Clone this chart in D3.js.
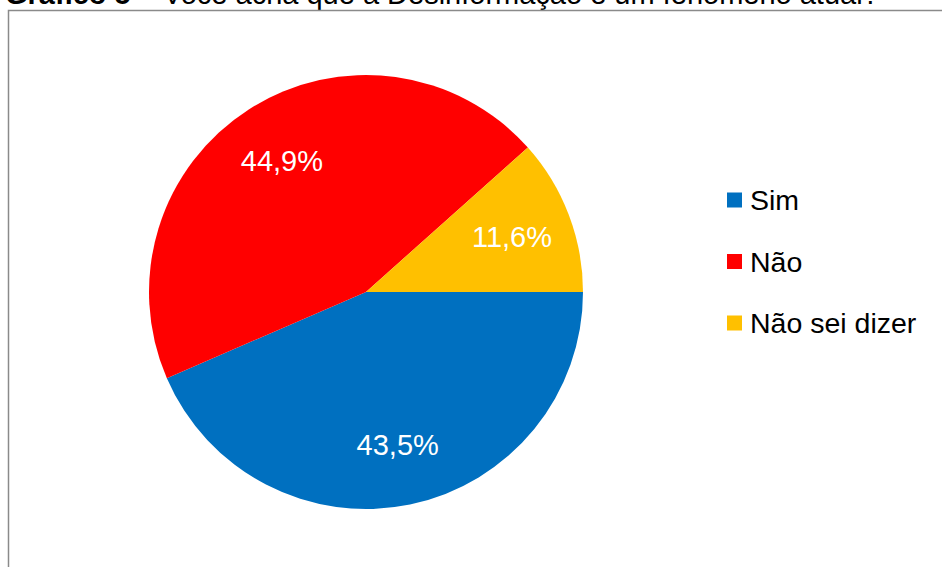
<!DOCTYPE html>
<html>
<head>
<meta charset="utf-8">
<script src="https://cdn.jsdelivr.net/npm/d3@7"></script>
<style>
  body { margin: 0; background: #fff; }
  svg { display: block; font-family: "Liberation Sans", Arial, sans-serif; }
</style>
</head>
<body>
<svg></svg>
<script>
// dados do gráfico
var categorias = ["Sim", "Não", "Não sei dizer"]
var valores = [43.5, 44.9, 11.6]
var cores = ["#0070C0", "#FF0000", "#FFC000"]
var rotulos = ["43,5%", "44,9%", "11,6%"]

var dimensions = {
    width: 942,
    height: 567
}

var svg = d3.select("svg")
            .attr("width", dimensions.width)
            .attr("height", dimensions.height)

// título (cortado no topo, como na imagem)
var titulo = svg.append("text")
                .attr("x", 5)
                .attr("y", 4)
                .attr("font-size", 29)
                .attr("fill", "#000")
titulo.append("tspan").attr("font-weight", "bold").text("Gráfico 5")
titulo.append("tspan").text(" – Você acha que a Desinformação é um fenômeno atual?")

// moldura
svg.append("path")
   .attr("d", "M8.5," + dimensions.height + " V10.5 H" + dimensions.width)
   .attr("fill", "none")
   .attr("stroke", "#8a8a8a")
   .attr("stroke-width", 1.5)

var cx = 366, cy = 292, raio = 217

var pie = d3.pie()
            .sort(null)
            .startAngle(Math.PI / 2)
            .endAngle(Math.PI / 2 + 2 * Math.PI)
            .value(d => d)

var arco = d3.arc().innerRadius(0).outerRadius(raio)
var arcoRotulo = d3.arc().innerRadius(raio * 0.72).outerRadius(raio * 0.72)

var g = svg.append("g").attr("transform", "translate(" + cx + "," + cy + ")")

var fatias = pie(valores)

g.selectAll(".fatia")
 .data(fatias)
 .enter()
 .append("path")
 .attr("class", "fatia")
 .attr("d", arco)
 .attr("fill", (d, i) => cores[i])

g.selectAll(".rotulo")
 .data(fatias)
 .enter()
 .append("text")
 .attr("class", "rotulo")
 .attr("transform", d => "translate(" + arcoRotulo.centroid(d) + ")")
 .attr("text-anchor", "middle")
 .attr("dy", "0.36em")
 .attr("font-size", 29)
 .attr("fill", "#fff")
 .text((d, i) => rotulos[i])

// legenda
var yLegenda = d3.scalePoint()
                 .domain(categorias)
                 .range([200, 323])

var legenda = svg.append("g")
                 .selectAll(".item")
                 .data(categorias)
                 .enter()
                 .append("g")
                 .attr("class", "item")
                 .attr("transform", d => "translate(727," + yLegenda(d) + ")")

legenda.append("rect")
       .attr("x", 0)
       .attr("y", -7.5)
       .attr("width", 15)
       .attr("height", 15)
       .attr("fill", (d, i) => cores[i])

legenda.append("text")
       .attr("x", 23)
       .attr("dy", "0.36em")
       .attr("font-size", 28.5)
       .attr("fill", "#000")
       .text(d => d)
</script>
</body>
</html>
